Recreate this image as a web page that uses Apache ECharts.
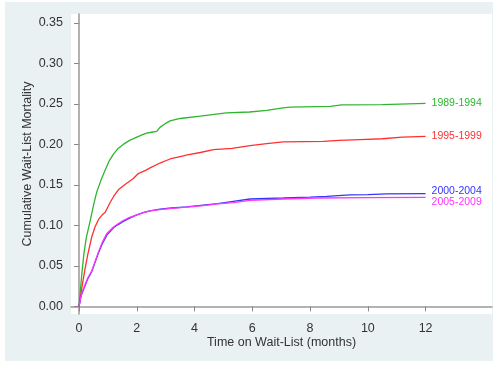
<!DOCTYPE html>
<html>
<head>
<meta charset="utf-8">
<script src="https://cdn.jsdelivr.net/npm/echarts@6/dist/echarts.min.js"></script>
<style>
html,body{margin:0;padding:0;background:#fff;}
#bg{position:absolute;left:5px;top:2px;width:488px;height:359px;background:#eaf1f3;}
#chart{position:absolute;left:0;top:0;width:493px;height:365px;}
</style>
</head>
<body>
<div id="bg"></div>
<div id="chart"></div>
<script>
var xTicks = [0, 2, 4, 6, 8, 10, 12];
var yTicks = [0, 0.05, 0.10, 0.15, 0.20, 0.25, 0.30, 0.35];

var seriesNames = ['1989-1994', '1995-1999', '2000-2004', '2005-2009'];
var seriesColors = ['#2fb52f', '#ff3030', '#3535ff', '#ff35ff'];

var t8994 = [0, 0.05, 0.1, 0.17, 0.25, 0.38, 0.5, 0.61, 0.75, 0.9, 1.05, 1.19, 1.35, 1.53, 1.75, 2.0, 2.2, 2.34, 2.5, 2.69, 2.8, 3.0, 3.15, 3.5, 4.2, 5.1, 5.9, 6.5, 7.07, 7.3, 8.7, 9.1, 10.5, 12];
var v8994 = [0, 0.022, 0.042, 0.066, 0.085, 0.105, 0.125, 0.141, 0.155, 0.168, 0.180, 0.188, 0.195, 0.200, 0.205, 0.209, 0.212, 0.214, 0.215, 0.216, 0.221, 0.226, 0.229, 0.232, 0.235, 0.239, 0.240, 0.242, 0.245, 0.246, 0.247, 0.2488, 0.249, 0.2507];

var t9599 = [0, 0.05, 0.1, 0.2, 0.3, 0.44, 0.55, 0.67, 0.8, 0.9, 1.07, 1.2, 1.36, 1.5, 1.65, 1.88, 2.05, 2.3, 2.46, 2.8, 3.15, 3.5, 3.75, 4.2, 4.65, 5.3, 5.92, 6.5, 7.07, 8.46, 9.0, 9.73, 10.5, 11.2, 12];
var v9599 = [0, 0.012, 0.024, 0.045, 0.064, 0.086, 0.098, 0.107, 0.113, 0.116, 0.128, 0.136, 0.144, 0.148, 0.152, 0.158, 0.164, 0.168, 0.171, 0.177, 0.182, 0.185, 0.187, 0.190, 0.1935, 0.195, 0.1985, 0.201, 0.203, 0.2038, 0.205, 0.206, 0.207, 0.209, 0.210];

var t0004 = [0, 0.05, 0.1, 0.2, 0.3, 0.44, 0.55, 0.67, 0.8, 0.96, 1.19, 1.35, 1.53, 1.75, 2.0, 2.25, 2.46, 2.8, 3.2, 3.73, 4.3, 4.8, 5.34, 5.92, 7.07, 8.0, 8.58, 9.38, 10.0, 10.65, 12];
var v0004 = [0, 0.010, 0.016, 0.025, 0.034, 0.043, 0.054, 0.066, 0.077, 0.088, 0.097, 0.101, 0.105, 0.109, 0.113, 0.116, 0.118, 0.120, 0.1215, 0.1228, 0.125, 0.127, 0.1297, 0.1326, 0.1338, 0.135, 0.1358, 0.1376, 0.138, 0.1388, 0.1392];

var t0509 = [0, 0.05, 0.1, 0.2, 0.3, 0.44, 0.55, 0.67, 0.8, 0.96, 1.19, 1.35, 1.53, 1.75, 2.0, 2.25, 2.46, 2.8, 3.2, 3.73, 4.3, 4.8, 5.34, 5.92, 7.07, 8.23, 10.0, 12];
var v0509 = [0, 0.010, 0.017, 0.026, 0.035, 0.044, 0.055, 0.067, 0.079, 0.090, 0.098, 0.102, 0.106, 0.110, 0.113, 0.116, 0.118, 0.1195, 0.121, 0.1225, 0.1245, 0.1265, 0.128, 0.131, 0.1326, 0.1338, 0.1342, 0.1346];

function pairs(t, v) { return t.map(function (x, i) { return [x, v[i]]; }); }

var allT = [t8994, t9599, t0004, t0509];
var allV = [v8994, v9599, v0004, v0509];
var labelOffsets = [[0, 0], [0, 0], [0, -3], [0, 5]];

var FONT = 'Liberation Sans, Arial, sans-serif';
var chart = echarts.init(document.getElementById('chart'), null, {renderer: 'canvas'});

var series = seriesNames.map(function (name, i) {
  return {
    name: name,
    type: 'line',
    data: pairs(allT[i], allV[i]),
    showSymbol: false,
    symbol: 'none',
    smooth: false,
    lineStyle: {color: seriesColors[i], width: 1.3},
    itemStyle: {color: seriesColors[i]},
    animation: false,
    endLabel: {
      show: true,
      formatter: name,
      color: seriesColors[i],
      fontSize: 10.5,
      fontFamily: FONT,
      distance: 6,
      offset: labelOffsets[i]
    }
  };
});

chart.setOption({
  backgroundColor: 'transparent',
  animation: false,
  grid: {
    left: 71, top: 14, width: 421, height: 300,
    show: true, backgroundColor: '#ffffff', borderWidth: 0
  },
  xAxis: {
    type: 'value',
    min: -0.28, max: 14.3,
    name: 'Time on Wait-List (months)',
    nameLocation: 'middle',
    nameGap: 22,
    nameMoveOverlap: false,
    nameTextStyle: {color: '#333', fontSize: 12.5, fontFamily: FONT},
    axisLine: {show: true, lineStyle: {color: '#999', width: 1.5}},
    axisTick: {show: true, length: 5, customValues: xTicks, lineStyle: {color: '#888'}},
    axisLabel: {customValues: xTicks, color: '#333', fontSize: 12.5, fontFamily: FONT, margin: 8},
    splitLine: {show: false}
  },
  yAxis: {
    type: 'value',
    min: -0.0094, max: 0.361,
    name: 'Cumulative Wait-List Mortality',
    nameLocation: 'middle',
    nameGap: 37,
    nameMoveOverlap: false,
    nameTextStyle: {color: '#333', fontSize: 12.5, fontFamily: FONT},
    axisLine: {show: true, lineStyle: {color: '#999', width: 1.5}},
    axisTick: {show: true, length: 5, customValues: yTicks, lineStyle: {color: '#888'}},
    axisLabel: {
      customValues: yTicks, color: '#333', fontSize: 12.5, fontFamily: FONT, margin: 8,
      formatter: function (v) { return v.toFixed(2); }
    },
    splitLine: {show: false}
  },
  series: series
});
</script>
</body>
</html>
